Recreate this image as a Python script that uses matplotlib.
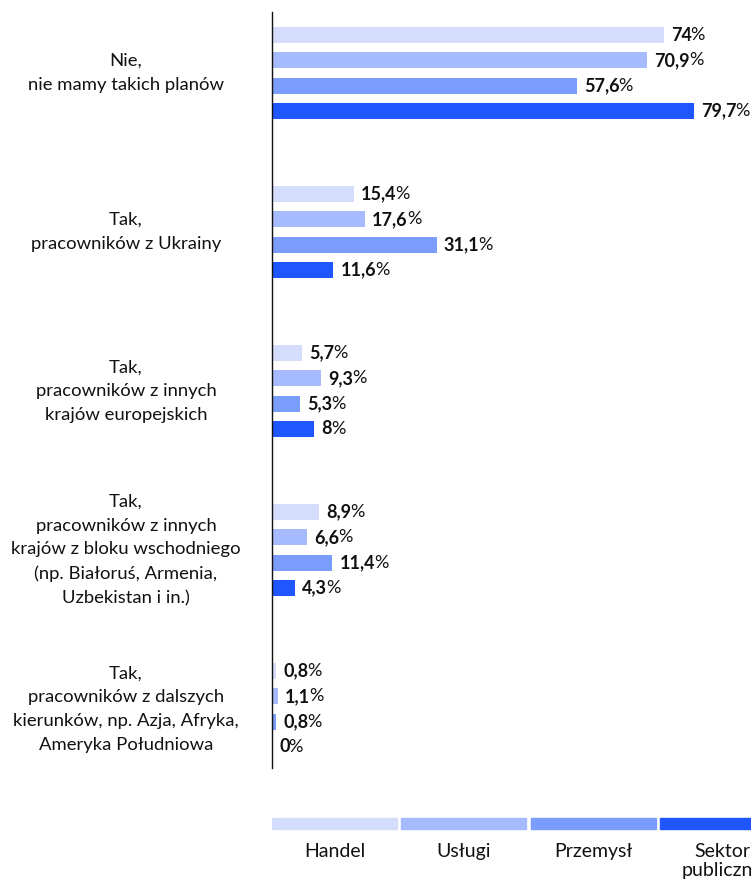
import matplotlib
matplotlib.use('Agg')
import matplotlib.pyplot as plt
import numpy as np

plt.rcParams['font.family'] = ['Lato', 'DejaVu Sans']

categories = [
    'Nie,\nnie mamy takich planów',
    'Tak,\npracowników z Ukrainy',
    'Tak,\npracowników z innych\nkrajów europejskich',
    'Tak,\npracowników z innych\nkrajów z bloku wschodniego\n(np. Białoruś, Armenia,\nUzbekistan i in.)',
    'Tak,\npracowników z dalszych\nkierunków, np. Azja, Afryka,\nAmeryka Południowa',
]
series_names = ['Handel', 'Usługi', 'Przemysł', 'Sektor\npubliczny']
handel = [74, 15.4, 5.7, 8.9, 0.8]
uslugi = [70.9, 17.6, 9.3, 6.6, 1.1]
przemysl = [57.6, 31.1, 5.3, 11.4, 0.8]
sektor = [79.7, 11.6, 8, 4.3, 0]
colors = ['#d4defc', '#a5bbfd', '#7a9dfd', '#1f56fe']

W, H = 751, 886
fig = plt.figure(figsize=(W / 100, H / 100), dpi=100)

# main axes: x from 272px to right edge, y from 12px to 768px
ax = fig.add_axes([272 / W, 1 - 768 / H, (W - 272) / W, (768 - 12) / H])
px_per_pct = 5.295
ax.set_xlim(0, (W - 272) / px_per_pct)
grp = 159.0
ax.set_ylim((768 - 73) / grp, -(73 - 12) / grp)

offsets = np.array([-1.5, -0.5, 0.5, 1.5]) * (25.2 / grp)
bar_h = 16 / grp
ypos = np.arange(len(categories))

fig.canvas.draw()
renderer = fig.canvas.get_renderer()

def fmt(v):
    return ('%g' % v).replace('.', ',')

for j, vals in enumerate([handel, uslugi, przemysl, sektor]):
    ys = ypos + offsets[j]
    ax.barh(ys, vals, height=bar_h, color=colors[j], clip_on=False)
    for y, v in zip(ys, vals):
        t = ax.annotate(fmt(v), (v, y), xytext=(7, 0), textcoords='offset pixels',
                        ha='left', va='center', fontsize=13, fontweight='bold',
                        color='#111111', annotation_clip=False)
        bb = t.get_window_extent(renderer)
        fig.text((bb.x1 - 1) / W, (bb.y0 + bb.height / 2) / H, '%', ha='left', va='center',
                 fontsize=13, color='#111111')

for y, lab in zip(ypos, categories):
    ax.text(-146 / px_per_pct, y, lab, ha='center', va='center', fontsize=13.3,
            color='#111111', linespacing=1.6)

for s in ['top', 'right', 'bottom']:
    ax.spines[s].set_visible(False)
ax.spines['left'].set_linewidth(1.0)
ax.spines['left'].set_color('#111111')
ax.set_xticks([])
ax.set_yticks([])

# legend
lax = fig.add_axes([272 / W, 1 - 886 / H, 516 / W, (886 - 800) / H])
lax.set_xlim(0, 516)
lax.set_ylim(86, 0)
lax.axis('off')
for i, (name, c) in enumerate(zip(series_names, colors)):
    x0 = i * 129.3
    lax.add_patch(plt.Rectangle((x0, 18), 125, 11, color=c))
    lax.text(x0 + 62.5, 43, name, ha='center', va='top', fontsize=14,
             color='#111111', linespacing=1.15)

fig.savefig('out.png', dpi=100)
